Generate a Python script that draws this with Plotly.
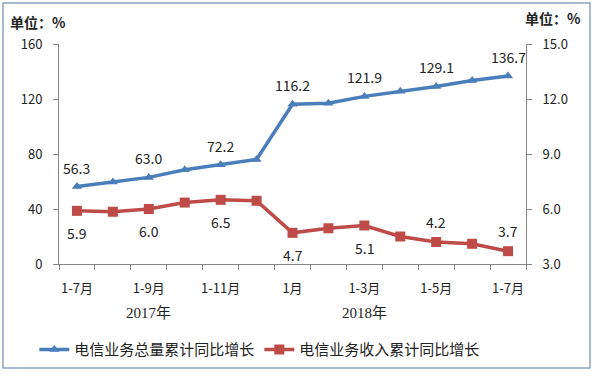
import plotly.graph_objects as go

categories = ["1-7月", "1-8月", "1-9月", "1-10月", "1-11月", "1-12月",
              "1月", "1-2月", "1-3月", "1-4月", "1-5月", "1-6月", "1-7月"]
tick_labels = ["1-7月", "1-9月", "1-11月", "1月", "1-3月", "1-5月", "1-7月"]
tick_index = [0, 2, 4, 6, 8, 10, 12]
years = ["2017年", "2018年"]
year_index = [2, 8]

volume_growth = [56.3, 59.6, 63.0, 68.5, 72.2, 76.0, 116.2, 117.0, 121.9, 125.6, 129.1, 133.5, 136.7]
revenue_growth = [5.9, 5.85, 6.0, 6.35, 6.5, 6.45, 4.7, 4.95, 5.1, 4.5, 4.2, 4.1, 3.7]

vol_label_idx = [0, 2, 4, 6, 8, 10, 12]
rev_label_idx = [0, 2, 4, 6, 8, 10, 12]
rev_label_pos = ["below", "below", "below", "below", "below", "above", "above"]

BLUE = "#4A7EBB"
RED = "#BE4B48"
FONT = "Noto Sans CJK SC"

x = list(range(len(categories)))

fig = go.Figure()
fig.add_trace(go.Scatter(
    x=x, y=volume_growth, name="电信业务总量累计同比增长", mode="lines+markers",
    line=dict(color=BLUE, width=3.5), marker=dict(symbol="triangle-up", size=9, color=BLUE),
    yaxis="y"))
fig.add_trace(go.Scatter(
    x=x, y=revenue_growth, name="电信业务收入累计同比增长", mode="lines+markers",
    line=dict(color=RED, width=3.5), marker=dict(symbol="square", size=10, color=RED),
    yaxis="y2"))

annotations = []
for i in vol_label_idx:
    annotations.append(dict(x=i, y=volume_growth[i], xref="x", yref="y",
                            text=f"{volume_growth[i]:.1f}", showarrow=False,
                            yshift=19, font=dict(size=14, color="#222")))
for i, pos in zip(rev_label_idx, rev_label_pos):
    annotations.append(dict(x=i, y=revenue_growth[i], xref="x", yref="y2",
                            text=f"{revenue_growth[i]:.1f}", showarrow=False,
                            yshift=-22 if pos == "below" else 20,
                            font=dict(size=14, color="#222")))
for yr, i in zip(years, year_index):
    annotations.append(dict(x=i, y=-0.222, xref="x", yref="paper", text=yr,
                            showarrow=False, yanchor="middle",
                            font=dict(size=15, color="#222", family="Liberation Serif, Noto Sans CJK SC")))
annotations.append(dict(x=-0.11, y=1.10, xref="paper", yref="paper", text="<b>单位：%</b>",
                        showarrow=False, xanchor="left", yanchor="middle",
                        font=dict(size=14, color="#222")))
annotations.append(dict(x=1.122, y=1.118, xref="paper", yref="paper", text="<b>单位：%</b>",
                        showarrow=False, xanchor="right", yanchor="middle",
                        font=dict(size=14, color="#222")))

fig.update_layout(
    width=600, height=378,
    margin=dict(l=59, r=74, t=44, b=114, autoexpand=False),
    paper_bgcolor="white", plot_bgcolor="white",
    font=dict(family=FONT, size=13, color="#222"),
    showlegend=True,
    legend=dict(orientation="h", x=0.43, xanchor="center", y=-0.39, yanchor="middle",
                font=dict(size=15, color="#222"), itemwidth=30, tracegroupgap=0),
    xaxis=dict(range=[-0.5, len(categories) - 0.5], tickmode="array",
               tickvals=tick_index, ticktext=tick_labels, ticks="",
               ticklabelstandoff=12, automargin=False,
               showline=True, linecolor="#868686", linewidth=1, showgrid=False, zeroline=False,
               minor=dict(tick0=-0.5, dtick=1, ticks="outside", ticklen=5, tickcolor="#868686",
                          showgrid=False),
               tickfont=dict(size=13)),
    yaxis=dict(range=[0, 160], tickvals=[0, 40, 80, 120, 160], ticks="outside", ticklen=5,
               tickcolor="#868686", showline=True, linecolor="#868686", showgrid=False,
               zeroline=False, ticklabelstandoff=8, tickfont=dict(size=13), automargin=False),
    yaxis2=dict(range=[3, 15], tickvals=[3, 6, 9, 12, 15], tickformat=".1f", overlaying="y",
                side="right", ticks="outside", ticklen=5, tickcolor="#868686",
                showline=True, linecolor="#868686", showgrid=False, zeroline=False,
                ticklabelstandoff=8, tickfont=dict(size=13), automargin=False),
    annotations=annotations,
    shapes=[dict(type="rect", xref="paper", yref="paper",
                 x0=(3 - 59) / 467, x1=(590 - 59) / 467,
                 y0=(264 - 368) / 220, y1=(264 - 3) / 220,
                 line=dict(color="#8EA3C2", width=1.5), layer="below")],
)

fig.write_html("out.html", config={"displayModeBar": False},
               post_script="document.body.style.margin='0';document.body.style.overflow='hidden';")
